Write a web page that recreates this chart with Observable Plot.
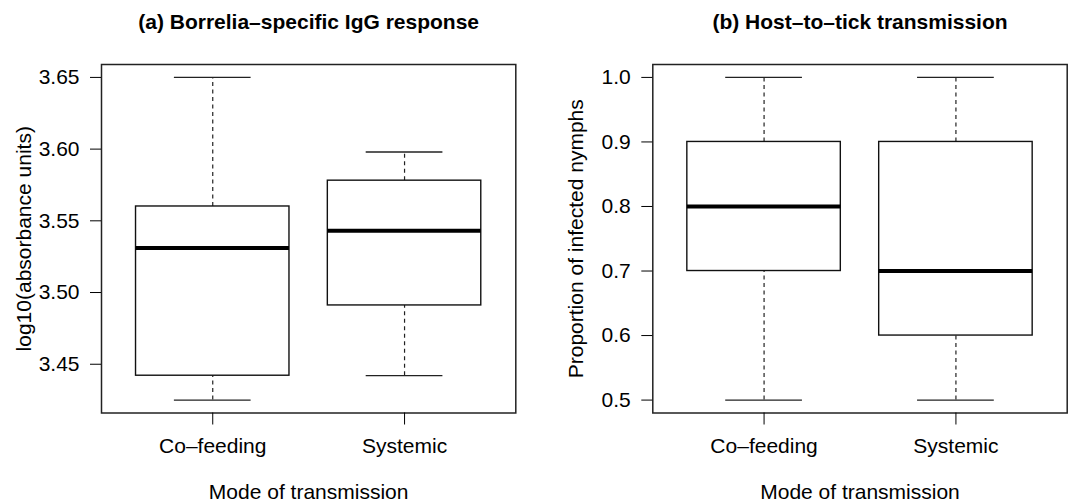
<!DOCTYPE html>
<html>
<head>
<meta charset="utf-8">
<script src="https://cdn.jsdelivr.net/npm/d3@7"></script>
<script src="https://cdn.jsdelivr.net/npm/@observablehq/plot@0.6"></script>
<style>
  html, body { margin: 0; padding: 0; background: white; }
  #wrap { position: relative; width: 1073px; height: 502px; overflow: hidden; background: white; }
  #wrap > div { position: absolute; top: 0; }
  svg { display: block; }
</style>
</head>
<body>
<div id="wrap"><div id="pa" style="left:0px"></div><div id="pb" style="left:540px"></div></div>
<script>
// ---- Data ----
const categories = ["Co\u2013feeding", "Systemic"];

// Panel (a): Borrelia-specific IgG response, log10(absorbance units)
const iggLow    = [3.425, 3.442];
const iggQ1     = [3.442, 3.491];
const iggMedian = [3.531, 3.543];
const iggQ3     = [3.560, 3.578];
const iggHigh   = [3.650, 3.598];
const iggTicks  = [3.45, 3.50, 3.55, 3.60, 3.65];

// Panel (b): Host-to-tick transmission, proportion of infected nymphs
const propLow    = [0.5, 0.5];
const propQ1     = [0.7, 0.6];
const propMedian = [0.8, 0.7];
const propQ3     = [0.9, 0.9];
const propHigh   = [1.0, 1.0];
const propTicks  = [0.5, 0.6, 0.7, 0.8, 0.9, 1.0];

const FONT = "'Liberation Sans', Arial, Helvetica, sans-serif";

function panel({title, ylabel, low, q1, med, q3, high, ticks, fmt, marginLeft, marginRight, width}) {
  const rows = categories.map((c, i) => ({cat: c, pos: i + 1, lo: low[i], q1: q1[i], med: med[i], q3: q3[i], hi: high[i]}));
  // R-style 4% extension of ranges
  const [ymin, ymax] = d3.extent([...low, ...high]);
  const ypad = (ymax - ymin) * 0.04;
  const xpad = (categories.length) * 0.04;
  const half = 0.4, staple = 0.2;
  return Plot.plot({
    width, height: 502,
    marginLeft, marginRight, marginTop: 64, marginBottom: 89.5,
    style: {fontFamily: FONT, fontSize: "21px", color: "black", background: "white", overflow: "visible"},
    x: {domain: [0.5 - xpad, categories.length + 0.5 + xpad]},
    y: {domain: [ymin - ypad, ymax + ypad]},
    marks: [
      // whiskers (dashed)
      Plot.ruleX(rows, {x: "pos", y1: "q3", y2: "hi", stroke: "#222", strokeWidth: 1.2, strokeDasharray: "4,3.5"}),
      Plot.ruleX(rows, {x: "pos", y1: "lo", y2: "q1", stroke: "#222", strokeWidth: 1.2, strokeDasharray: "4,3.5"}),
      // staples
      Plot.ruleY(rows, {y: "hi", x1: d => d.pos - staple, x2: d => d.pos + staple, stroke: "#222", strokeWidth: 1.3}),
      Plot.ruleY(rows, {y: "lo", x1: d => d.pos - staple, x2: d => d.pos + staple, stroke: "#222", strokeWidth: 1.3}),
      // boxes
      Plot.rect(rows, {x1: d => d.pos - half, x2: d => d.pos + half, y1: "q1", y2: "q3", fill: "white", stroke: "#111", strokeWidth: 1.4}),
      // medians
      Plot.ruleY(rows, {y: "med", x1: d => d.pos - half, x2: d => d.pos + half, stroke: "black", strokeWidth: 4}),
      Plot.frame({stroke: "#222", strokeWidth: 1.5}),
      Plot.axisY({ticks, tickFormat: fmt, tickSize: 11, tickPadding: 11, fontSize: 21, label: null}),
      Plot.axisX({ticks: categories.map((c, i) => i + 1), tickFormat: v => categories[v - 1], tickSize: 12, tickPadding: 13, fontSize: 21, label: null}),
      Plot.text([title], {frameAnchor: "top", dy: -42.5, fontWeight: "bold", fontSize: 21, lineAnchor: "middle", textAnchor: "middle"}),
      Plot.text([ylabel], {frameAnchor: "left", rotate: -90, dx: -77, fontSize: 21, lineAnchor: "middle", textAnchor: "middle"}),
      Plot.text(["Mode of transmission"], {frameAnchor: "bottom", dy: 79.5, fontSize: 21, lineAnchor: "middle", textAnchor: "middle"})
    ]
  });
}

document.getElementById("pa").appendChild(panel({
  title: "(a) Borrelia\u2013specific IgG response",
  ylabel: "log10(absorbance units)",
  low: iggLow, q1: iggQ1, med: iggMedian, q3: iggQ3, high: iggHigh,
  ticks: iggTicks, fmt: d3.format(".2f"),
  marginLeft: 101, marginRight: 24.7, width: 540
}));

document.getElementById("pb").appendChild(panel({
  title: "(b) Host\u2013to\u2013tick transmission",
  ylabel: "Proportion of infected nymphs",
  low: propLow, q1: propQ1, med: propMedian, q3: propQ3, high: propHigh,
  ticks: propTicks, fmt: d3.format(".1f"),
  marginLeft: 112.3, marginRight: 6.3, width: 533
}));
</script>
</body>
</html>
